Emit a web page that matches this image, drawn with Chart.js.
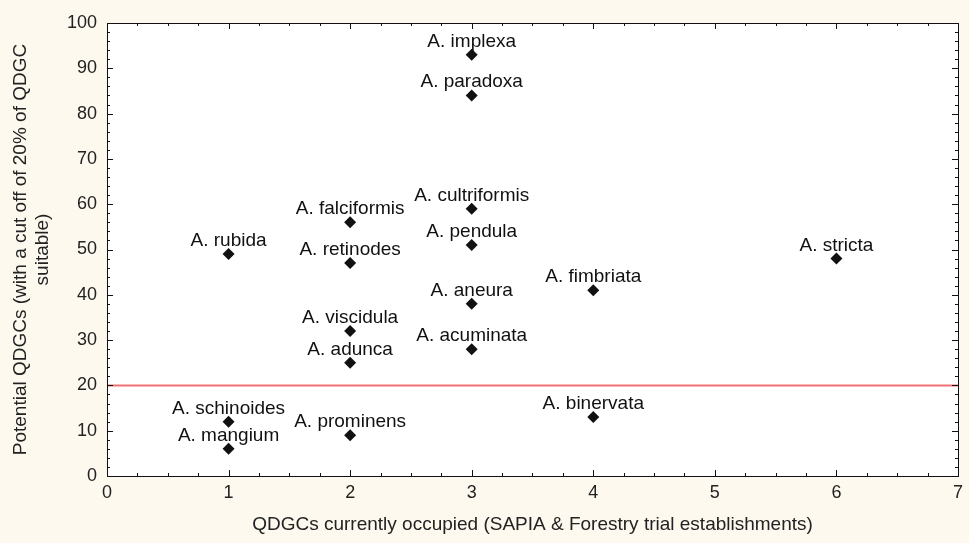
<!DOCTYPE html>
<html>
<head>
<meta charset="utf-8">
<script src="https://cdn.jsdelivr.net/npm/chart.js@4/dist/chart.umd.min.js"></script>
<style>
    html, body { margin: 0; padding: 0; background: #fdf9ef; }
    #wrap { width: 969px; height: 543px; }
</style>
</head>
<body>
<div id="wrap"><canvas id="chart"></canvas></div>
<script>
'use strict';

// species and their values
const species = [
    'A. implexa', 'A. paradoxa', 'A. cultriformis', 'A. pendula', 'A. aneura', 'A. acuminata',
    'A. falciformis', 'A. retinodes', 'A. viscidula', 'A. adunca', 'A. prominens',
    'A. rubida', 'A. schinoides', 'A. mangium',
    'A. fimbriata', 'A. binervata', 'A. stricta'
];
const occupied = [3, 3, 3, 3, 3, 3, 2, 2, 2, 2, 2, 1, 1, 1, 4, 4, 6];
const potential = [93, 84, 59, 51, 38, 28, 56, 47, 32, 25, 9, 49, 12, 6, 41, 13, 48];

const cutOff = 20;
const xRange = [0, 7];
const yRange = [0, 100];

const font = 'Liberation Sans, Arial, sans-serif';

const framePlugin = {
    id: 'frame',
    beforeDraw: (chart) => {
        const ctx = chart.ctx;
        const a = chart.chartArea;
        ctx.save();
        ctx.fillStyle = '#fdf9ef';
        ctx.fillRect(0, 0, chart.width, chart.height);
        ctx.fillStyle = '#ffffff';
        ctx.fillRect(a.left, a.top, a.right - a.left, a.bottom - a.top);
        ctx.restore();
    },
    afterDatasetsDraw: (chart) => {
        const ctx = chart.ctx;
        const a = chart.chartArea;
        const xs = chart.scales.x;
        const ys = chart.scales.y;
        ctx.save();
        ctx.strokeStyle = '#111';
        ctx.lineWidth = 1;

        // inward ticks on all four sides
        ctx.beginPath();
        for (let v = xRange[0]; v <= xRange[1] + 1e-9; v += 0.25) {
            const len = Math.abs(v - Math.round(v)) < 1e-9 ? 6 : 3;
            const px = Math.round(xs.getPixelForValue(v)) + 0.5;
            ctx.moveTo(px, a.bottom); ctx.lineTo(px, a.bottom - len);
            ctx.moveTo(px, a.top); ctx.lineTo(px, a.top + len);
        }
        for (let v = yRange[0]; v <= yRange[1]; v += 2) {
            const len = v % 10 === 0 ? 6 : 3;
            const py = Math.round(ys.getPixelForValue(v)) + 0.5;
            ctx.moveTo(a.left, py); ctx.lineTo(a.left + len, py);
            ctx.moveTo(a.right, py); ctx.lineTo(a.right - len, py);
        }
        ctx.stroke();
        ctx.strokeRect(Math.round(a.left) + 0.5, Math.round(a.top) + 0.5,
            Math.round(a.right - a.left), Math.round(a.bottom - a.top));

        // species names above the points
        const meta = chart.getDatasetMeta(1);
        ctx.fillStyle = '#111';
        ctx.font = '19px ' + font;
        ctx.textAlign = 'center';
        ctx.textBaseline = 'alphabetic';
        meta.data.forEach((pt, i) => {
            ctx.fillText(species[i], pt.x, pt.y - 8);
        });
        ctx.restore();
    }
};

new Chart(document.getElementById('chart'), {
    type: 'scatter',
    data: {
        datasets: [{
            data: [{x: xRange[0], y: cutOff}, {x: xRange[1], y: cutOff}],
            showLine: true,
            borderColor: '#ee7272',
            borderWidth: 2,
            pointRadius: 0
        }, {
            data: occupied.map((x, i) => ({x: x, y: potential[i]})),
            pointStyle: 'rectRot',
            pointRadius: 6,
            backgroundColor: '#111',
            borderColor: '#111',
            borderWidth: 0
        }]
    },
    plugins: [framePlugin],
    options: {
        animation: false,
        responsive: true,
        maintainAspectRatio: false,
        layout: { padding: { top: 23, right: 11, left: 0, bottom: 0 } },
        plugins: {
            legend: { display: false },
            tooltip: { enabled: false }
        },
        scales: {
            x: {
                type: 'linear',
                min: xRange[0],
                max: xRange[1],
                afterFit: (s) => { s.height = 67; },
                grid: { display: false, drawTicks: false },
                border: { display: false },
                ticks: { stepSize: 1, padding: 6, color: '#222', font: { family: font, size: 18 } },
                title: {
                    display: true,
                    text: 'QDGCs currently occupied (SAPIA & Forestry trial establishments)',
                    color: '#222',
                    font: { family: font, size: 19 },
                    padding: { top: 0, bottom: 7 }
                }
            },
            y: {
                type: 'linear',
                min: yRange[0],
                max: yRange[1],
                afterFit: (s) => { s.width = 107; },
                grid: { display: false, drawTicks: false },
                border: { display: false },
                ticks: { stepSize: 10, padding: 10, color: '#222', font: { family: font, size: 18 } },
                title: {
                    display: true,
                    text: ['Potential QDGCs (with a cut off of 20% of QDGC', 'suitable)'],
                    color: '#222',
                    font: { family: font, size: 19, lineHeight: 1.2 },
                    padding: { top: 9, bottom: 0 }
                }
            }
        }
    }
});
</script>
</body>
</html>
